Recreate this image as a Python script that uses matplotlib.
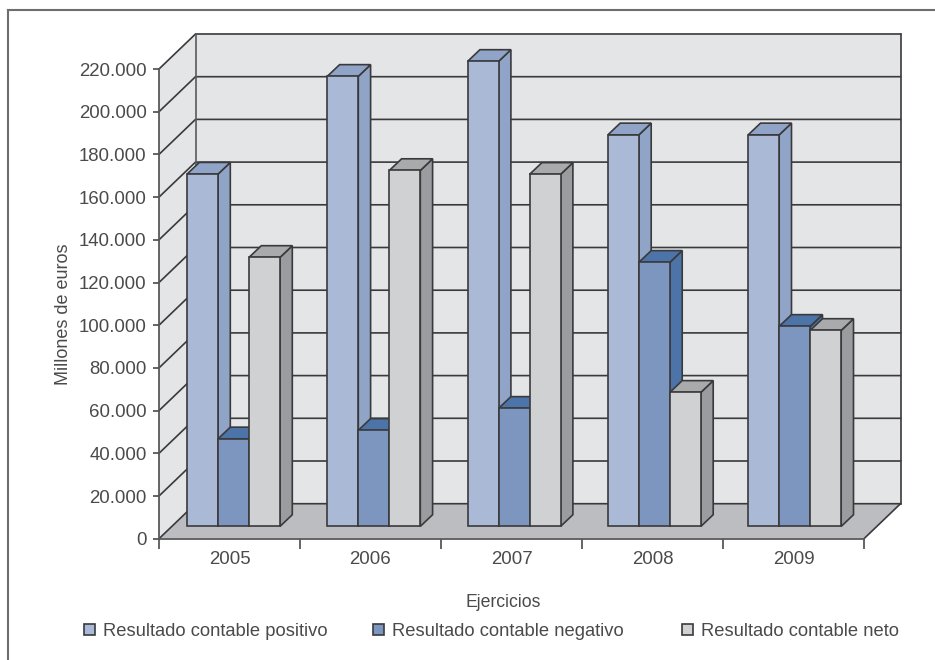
import matplotlib
matplotlib.use("Agg")
import matplotlib.pyplot as plt
from matplotlib.patches import Polygon, Patch
from matplotlib.lines import Line2D

years = ["2005", "2006", "2007", "2008", "2009"]
positivo = [165000, 210800, 217800, 183400, 183400]
negativo = [41000, 45000, 55300, 123700, 93700]
neto = [126000, 166700, 164900, 62800, 91800]
series_names = ["Resultado contable positivo", "Resultado contable negativo", "Resultado contable neto"]
y_ticks = list(range(0, 220001, 20000))

W, H = 935, 660
plt.rcParams["font.family"] = ["Liberation Sans", "DejaVu Sans"]
TXT = "#4a4a4c"
LINE = "#3a3a3c"
FS = 13.4

fig = plt.figure(figsize=(W / 100, H / 100), dpi=100, facecolor="white")
L, R, B, T = 159, 864, 538.7, 69
ax = fig.add_axes([L / W, 1 - B / H, (R - L) / W, (B - T) / H])
ax.set_xlim(0, 5)
ax.set_ylim(0, 220000)
ax.patch.set_visible(False)

px_x = 5 / (R - L)
px_y = 220000 / (B - T)
DX, DY = 36.5 * px_x, 35 * px_y
TOP = 220000
lw = 1.2

# walls and floor
ax.add_patch(Polygon([(DX, DY), (5 + DX, DY), (5 + DX, TOP + DY), (DX, TOP + DY)],
                     fc="#e4e5e7", ec="none", clip_on=False, zorder=1))
ax.add_patch(Polygon([(0, 0), (DX, DY), (DX, TOP + DY), (0, TOP)],
                     fc="#e4e5e7", ec="none", clip_on=False, zorder=1))
ax.add_patch(Polygon([(0, 0), (5, 0), (5 + DX, DY), (DX, DY)],
                     fc="#bcbdc0", ec="none", clip_on=False, zorder=1))
for v in y_ticks:
    ax.plot([0, DX, 5 + DX], [v, v + DY, v + DY], color=LINE, lw=lw, clip_on=False, zorder=2,
            solid_joinstyle="miter")
ax.plot([DX, DX], [DY, TOP + DY], color="#58595b", lw=lw, clip_on=False, zorder=2)
ax.plot([5 + DX, 5 + DX], [DY, TOP + DY], color=LINE, lw=lw, clip_on=False, zorder=2)
ax.plot([5, 5 + DX], [0, DY], color=LINE, lw=lw, clip_on=False, zorder=2)

# bars
start = (187 - L) * px_x
pitch = 140.3 * px_x
width = 31 * px_x
depth_x, depth_y = 12.3 * px_x, 11.7 * px_y
base = 12.3 * px_y
series = [positivo, negativo, neto]
front = ["#aab9d6", "#7d96bf", "#d0d1d3"]
top_c = ["#90a4c7", "#4c74a8", "#a9aaac"]
side_c = ["#90a4c7", "#4c74a8", "#9b9c9f"]
z = 3
for i in range(len(years)):
    for j, vals in enumerate(series):
        x0 = start + pitch * i + width * j
        h = vals[i]
        x1 = x0 + width
        yt = base + h
        ax.add_patch(Polygon([(x1, base), (x1 + depth_x, base + depth_y), (x1 + depth_x, yt + depth_y), (x1, yt)],
                             fc=side_c[j], ec=LINE, lw=lw, clip_on=False, zorder=z, joinstyle="miter"))
        ax.add_patch(Polygon([(x0, yt), (x1, yt), (x1 + depth_x, yt + depth_y), (x0 + depth_x, yt + depth_y)],
                             fc=top_c[j], ec=LINE, lw=lw, clip_on=False, zorder=z, joinstyle="miter"))
        ax.bar(x0, h, width=width, bottom=base, align="edge", color=front[j], edgecolor=LINE,
               linewidth=lw, clip_on=False, zorder=z + 0.5)
        z += 1

# axes
for s in ("top", "right"):
    ax.spines[s].set_visible(False)
for s in ("left", "bottom"):
    ax.spines[s].set_color("#58595b")
    ax.spines[s].set_linewidth(1.3)
    ax.spines[s].set_zorder(2.5)
ax.set_yticks(y_ticks)
ax.set_yticklabels([f"{v:,}".replace(",", ".") for v in y_ticks], fontsize=FS, color=TXT)
ax.tick_params(axis="y", length=4.5, width=1.1, color=LINE, pad=4.5)
ax.set_xticks(range(6))
ax.set_xticklabels([""] * 6)
ax.tick_params(axis="x", which="major", length=7, width=1.1, color=LINE)
ax.set_xticks([i + 0.5 for i in range(5)], minor=True)
ax.set_xticklabels(years, minor=True, fontsize=FS, color=TXT)
ax.tick_params(axis="x", which="minor", length=0, pad=8.5)

ax.set_xlabel("Ejercicios", fontsize=12.7, color=TXT, va="center")
ax.xaxis.set_label_coords((503 - L) / (R - L), (B - 602.5) / (B - T))
ax.set_ylabel("Millones de euros", fontsize=13.0, color=TXT, va="center")
ax.yaxis.set_label_coords((63 - L) / (R - L), (B - 314.5) / (B - T))

# legend, one entry per anchor
legend_x = [84, 373, 682]
for name, fc, lx in zip(series_names, front, legend_x):
    leg = fig.legend(handles=[Patch(fc=fc, ec=LINE, lw=1.2, label=name)], loc="center left",
                     bbox_to_anchor=(lx / W, 1 - 631.5 / H), frameon=False, fontsize=13.2,
                     handlelength=0.62, handleheight=0.62, handletextpad=0.42,
                     borderpad=0, borderaxespad=0, labelcolor=TXT)

# outer frame
fc = "#6d6e71"
fig.add_artist(Line2D([8 / W, 8 / W], [0, 1 - 10 / H], color=fc, lw=1.5, transform=fig.transFigure))
fig.add_artist(Line2D([8 / W, 1], [1 - 10 / H, 1 - 10 / H], color=fc, lw=1.5, transform=fig.transFigure))

fig.savefig("out.png", dpi=100, facecolor="white")
